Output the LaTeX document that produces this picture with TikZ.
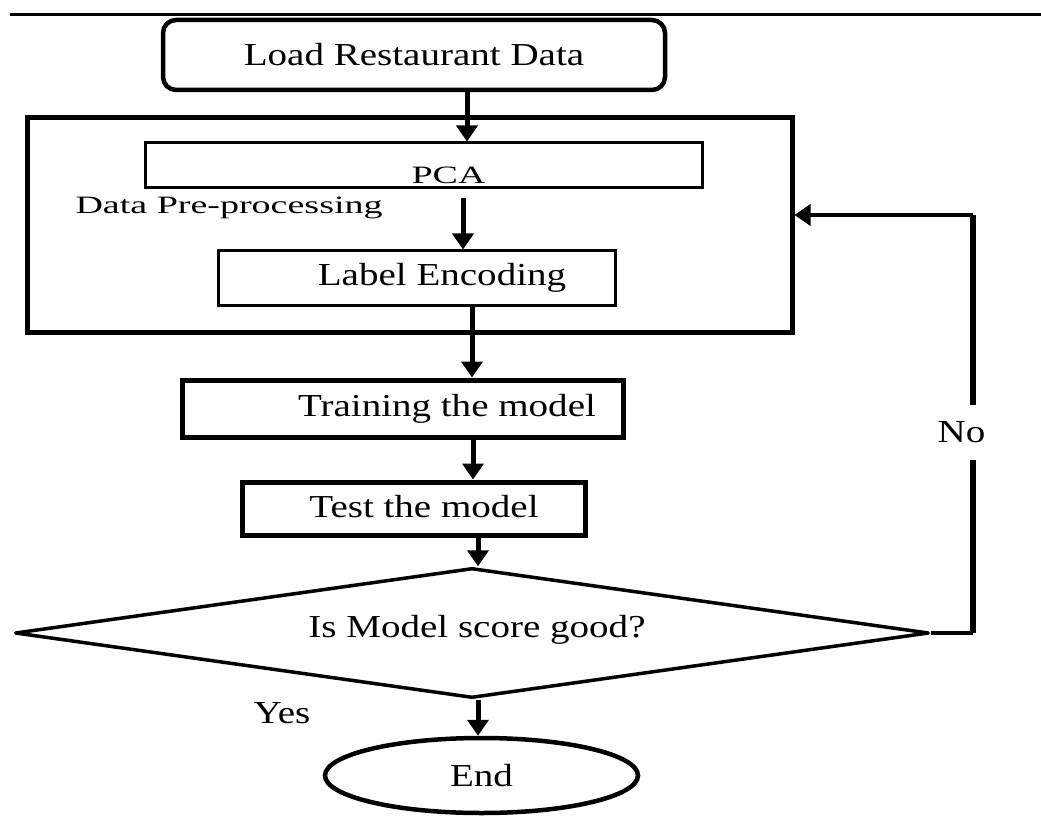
\documentclass[tikz,border=0pt]{standalone}
\usepackage{fontspec}
\setmainfont{Liberation Serif}
\usetikzlibrary{shapes.geometric, arrows.meta}

% testo allargato come nell'originale
\newcommand{\largo}[1]{\scalebox{1.22}[1]{#1}}
\newcommand{\largopic}[1]{{\fontsize{25}{28}\selectfont\scalebox{1.52}[1]{#1}}}

\begin{document}
\begin{tikzpicture}[x=1pt, y=-1pt, >={Triangle[length=16pt, width=21pt]},
        font=\fontsize{32}{36}\selectfont,
        blocco/.style={draw, line width=3pt, inner sep=0pt},
        flusso/.style={->, line width=5pt}]
        \useasboundingbox (0,0) rectangle (1041,818);

        % Linea in alto
        \coordinate (L1) at (10,15);
        \coordinate (L2) at (1041,15);
        \draw[line width=3pt] (L1) -- (L2);

        % Blocchi
        \node[blocco, line width=4.5pt, rounded corners=13pt, minimum width=502pt, minimum height=70pt] (load) at (414,55) {\largo{Load Restaurant Data}};
        \node[blocco, line width=5pt, minimum width=765pt, minimum height=214pt] (prep) at (409.5,225) {};
        \node[blocco, minimum width=557pt, minimum height=45pt,
            label={[xshift=25pt, yshift=-10pt]center:\largopic{PCA}}] (pca) at (423.5,165.5) {};
        \node[anchor=base west] (preptxt) at (72,214) {\largopic{Data Pre-processing}};
        \node[blocco, minimum width=397pt, minimum height=54pt,
            label={[xshift=25.5pt]center:\largo{Label Encoding}}] (lenc) at (416.5,278) {};
        \node[blocco, line width=5pt, minimum width=441pt, minimum height=57pt,
            label={[xshift=44.5pt]center:\largo{Training the model}}] (train) at (402.5,408.5) {};
        \node[blocco, line width=5pt, minimum width=343pt, minimum height=53pt,
            label={[xshift=10.5pt, yshift=2pt]center:\largo{Test the model}}] (test) at (413.5,508.5) {};
        \node[blocco, diamond, aspect=7, line width=3.5pt, line join=round, minimum width=914pt, minimum height=130pt,
            label={[xshift=5pt, yshift=3pt]center:\largo{Is Model score good?}}] (score) at (472,633) {};
        \node[blocco, ellipse, line width=4.5pt, minimum width=313pt, minimum height=75pt] (end) at (481.5,775.5) {\largo{End}};

        % Frecce
        \draw[flusso] (467,0 |- load.south) -- (467,0 |- pca.north);
        \draw[flusso, shorten <=9pt] (463,0 |- pca.south) -- (463,0 |- lenc.north);
        \draw[flusso] (472,0 |- lenc.south) -- (472,0 |- train.north);
        \draw[flusso] (473,0 |- train.south) -- (473,0 |- test.north);
        \draw[flusso] (478,0 |- test.south) -- (478,0 |- score.north);
        \draw[flusso] (478,0 |- score.south) -- (478,0 |- end.north);

        % Ritorno (No)
        \coordinate (giro1) at (973,633);
        \coordinate (giro2) at (973,215);
        \draw[line width=3.5pt] (score.east) -- (giro1);
        \draw[line width=5.5pt] (giro1) -- (giro2);
        \draw[flusso, line width=3.5pt] (giro2) -- (prep.east |- giro2);
        \node[fill=white, minimum height=55pt, inner xsep=2pt] (no) at (961.5,432.5) {\largo{No}};
        \node[anchor=base west] (yes) at (250,723) {\largo{Yes}};

    \end{tikzpicture}
\end{document}
